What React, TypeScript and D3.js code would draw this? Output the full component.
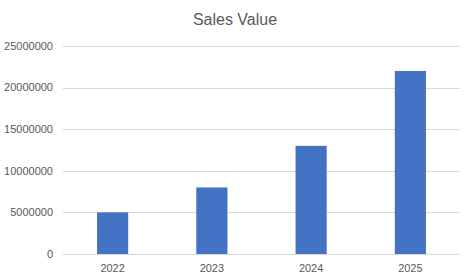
import React from "react";
import * as d3 from "d3";

const years = ["2022", "2023", "2024", "2025"];
const salesValues = [5000000, 8000000, 13000000, 22000000];
const yTicks = [0, 5000000, 10000000, 15000000, 20000000, 25000000];

const App = () => {
  const width = 472;
  const height = 279;
  const margin = { top: 46, right: 12, bottom: 25, left: 63 };
  const innerWidth = width - margin.left - margin.right;
  const innerHeight = height - margin.top - margin.bottom;

  const x = d3
    .scaleBand<string>()
    .domain(years)
    .range([0, innerWidth])
    .paddingInner(0.686)
    .paddingOuter(0.343);

  const y = d3.scaleLinear().domain([0, 25000000]).range([innerHeight, 0]);

  const font = "'Liberation Sans', Arial, sans-serif";

  return (
    <svg
      width={width}
      height={height}
      style={{ position: "absolute", left: 0, top: 0, background: "#fff" }}
    >
      <text
        x={235}
        y={25}
        textAnchor="middle"
        fontFamily={font}
        fontSize={16}
        fill="#595959"
      >
        Sales Value
      </text>
      <g transform={`translate(${margin.left}, ${margin.top})`}>
        {/* grid lines + y labels */}
        {yTicks.map((t) => (
          <g key={t}>
            <line
              x1={0}
              x2={innerWidth}
              y1={Math.round(y(t)) + 0.5}
              y2={Math.round(y(t)) + 0.5}
              stroke="#d9d9d9"
              strokeWidth={1}
            />
            <text
              x={-10}
              y={y(t)}
              dy="0.35em"
              textAnchor="end"
              fontFamily={font}
              fontSize={11}
              fill="#595959"
            >
              {t}
            </text>
          </g>
        ))}
        {/* bars */}
        {years.map((yr, i) => (
          <rect
            key={yr}
            x={x(yr)}
            y={y(salesValues[i])}
            width={x.bandwidth()}
            height={innerHeight - y(salesValues[i])}
            fill="#4472c4"
          />
        ))}
        {/* x labels */}
        {years.map((yr) => (
          <text
            key={yr}
            x={(x(yr) ?? 0) + x.bandwidth() / 2}
            y={innerHeight + 18}
            textAnchor="middle"
            fontFamily={font}
            fontSize={11}
            fill="#595959"
          >
            {yr}
          </text>
        ))}
      </g>
    </svg>
  );
};

export default App;
